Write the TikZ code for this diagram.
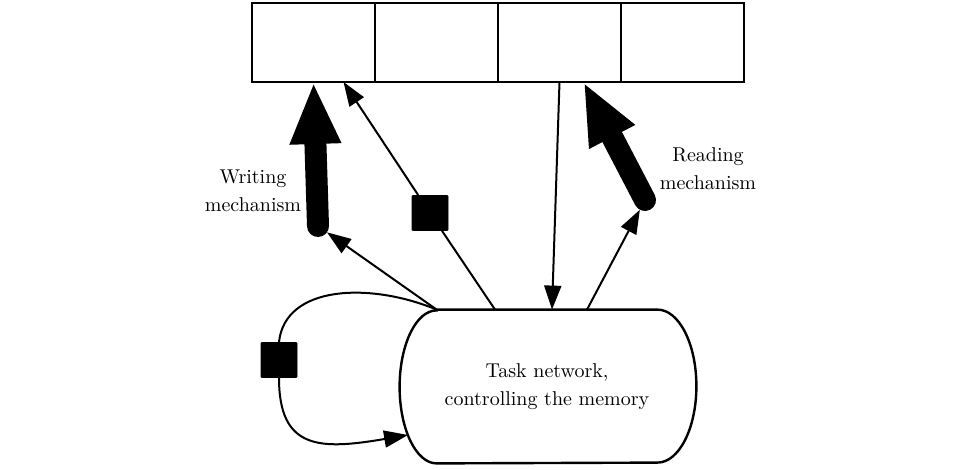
\documentclass[tikz,border=0pt]{standalone}
\usepackage{amsmath}
\usepackage{amssymb}
\usetikzlibrary{arrows.meta}

\begin{document}
\begin{tikzpicture}[x=0.5pt,y=-0.5pt]
	\tikzset{cell/.style={draw,rectangle,line width=1.2pt,minimum width=61.5pt,minimum height=39.5pt,inner sep=0pt,outer sep=0pt},
		gate/.style={draw,fill,rectangle,minimum width=18pt,minimum height=17.5pt,inner sep=0pt,rounded corners=0.5pt},
		taskbox/.style={rectangle,minimum width=110pt,minimum height=76.5pt,inner sep=0pt,align=center,font=\fontsize{10pt}{14pt}\selectfont},
		link/.style={line width=1pt,-{Triangle[length=12pt,width=8.5pt]}},
		fatlink/.style={line width=11pt,line cap=round,-{Triangle[length=31pt,width=23.5pt]}},
		lbl/.style={align=center,font=\fontsize{10pt}{14pt}\selectfont}
	}
	\useasboundingbox (0,0) rectangle (964,470);
    \node [cell] (m1) at (313.5,42.5) {};
    \node [cell] (m2) at (436.5,42.5) {};
    \node [cell] (m3) at (559.5,42.5) {};
    \node [cell] (m4) at (682.5,42.5) {};
    \node [taskbox] (task) at (547,386.5) {Task network,\\controlling the memory};
    \node [gate] (g1) at (430,213) {};
    \node [gate] (g2) at (279,360) {};
    \coordinate (wr) at (318,226);
    \coordinate (rd) at (645,200);
    \coordinate (tin) at ([xshift=-14.25pt,yshift=-24.25pt]task.west);
    \node [lbl] (wlab) at (253,191) {Writing\\mechanism};
    \node [lbl] (rlab) at (708,169) {Reading\\mechanism};

    \draw [line width=1.2pt] (task.north west) -- (task.north east)
    	  arc [start angle=90,end angle=-90,x radius=19.5pt,y radius=38.25pt]
    	  -- (task.south west)
    	  arc [start angle=270,end angle=90,x radius=18.5pt,y radius=38.25pt] -- cycle;
    \draw [fatlink] (wr) -- (m1.south);
    \draw [fatlink] (rd) -- ([xshift=12pt]m3.south);
    \draw [link,shorten >=5.5pt] (task.north west) -- (wr);
    \draw [link,shorten >=5.5pt] ([xshift=20pt]task.north) -- (rd);
    \draw [link] ([xshift=-26pt]task.north) -- (g1) -- ([xshift=15pt]m1.south);
    \draw [link] (m3.south) -- ([xshift=2.5pt]task.north);
    \draw [line width=1pt] (task.north west) .. controls (370,282) and (285,285) .. (g2.north);
    \draw [link] (g2.south) .. controls (279,450) and (320,450) .. (tin);
\end{tikzpicture}
\end{document}
